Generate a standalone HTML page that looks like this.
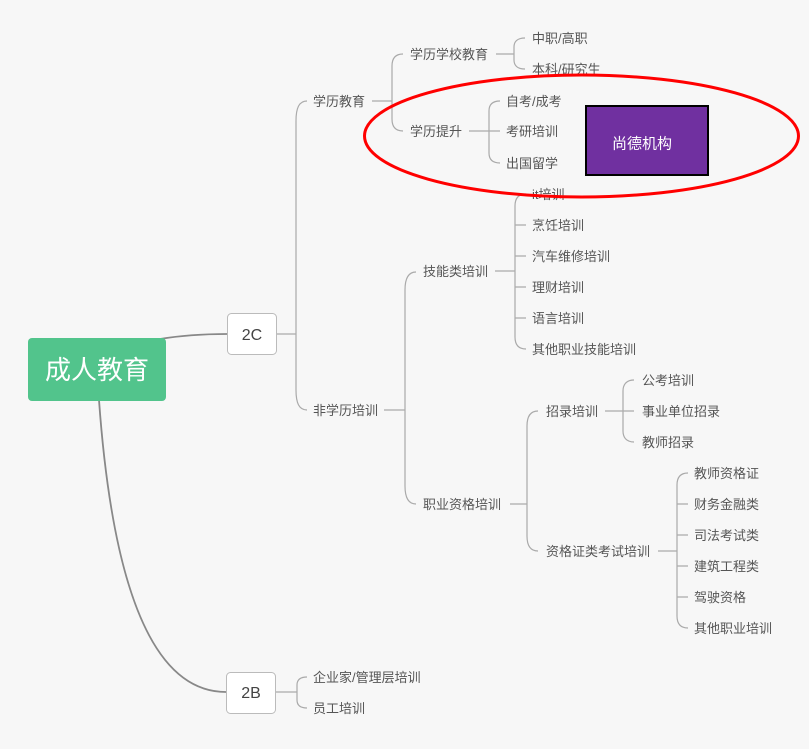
<!DOCTYPE html>
<html><head><meta charset="utf-8"><style>
html,body{margin:0;padding:0;background:#f7f7f7;}
svg{display:block;}
text{font-family:"Liberation Sans","Noto Sans CJK SC","WenQuanYi Zen Hei",sans-serif;}
.t{font-size:13px;fill:#555;}
</style></head><body>
<svg width="809" height="749" viewBox="0 0 809 749" xmlns="http://www.w3.org/2000/svg">
<rect width="809" height="749" fill="#f7f7f7"/>
<!-- main connectors -->
<g fill="none" stroke="#888" stroke-width="1.8">
<path d="M160 339 Q190 334 227 334"/>
<path d="M99 400 Q120 692 226 692"/>
</g>
<!-- brackets -->
<g fill="none" stroke="#aaa" stroke-width="1.2">
<!-- 2C -->
<path d="M277 334 L296 334"/>
<path d="M307 101 C299 101 296 108 296 121 L296 390 C296 403 299 410 307 410"/>
<!-- 学历教育 -->
<path d="M372 101 L392 101"/>
<path d="M403 54 C395 54 392 59 392 66 L392 119 C392 126 395 131 403 131"/>
<!-- 学历学校教育 -->
<path d="M496 54 L514 54"/>
<path d="M525 38 C517 38 514 42 514 47 L514 60 C514 65 517 69 525 69"/>
<!-- 学历提升 -->
<path d="M469 131 L500 131"/>
<path d="M500 101 C492 101 489 105 489 111 L489 153 C489 159 492 163 500 163"/>
<!-- 非学历培训 -->
<path d="M384 410 L405 410"/>
<path d="M416 272 C408 272 405 279 405 290 L405 486 C405 497 408 504 416 504"/>
<!-- 技能类培训 -->
<path d="M495 271 L515 271"/>
<path d="M526 194 C518 194 515 199 515 206 L515 337 C515 344 518 349 526 349"/>
<path d="M515 225 Q516 225 526 225 M515 256 L526 256 M515 287 L526 287 M515 318 L526 318"/>
<!-- 职业资格培训 -->
<path d="M510 504 L527 504"/>
<path d="M538 411 C530 411 527 417 527 426 L527 536 C527 545 530 551 538 551"/>
<!-- 招录培训 -->
<path d="M605 411 L634 411"/>
<path d="M634 380 C626 380 623 385 623 391 L623 431 C623 437 626 442 634 442"/>
<!-- 资格证类考试培训 -->
<path d="M658 551 L677 551"/>
<path d="M688 473 C680 473 677 478 677 485 L677 616 C677 623 680 628 688 628"/>
<path d="M677 504 L688 504 M677 535 L688 535 M677 566 L688 566 M677 597 L688 597"/>
<!-- 2B -->
<path d="M276 692 L297 692"/>
<path d="M307 677 C300 677 297 680 297 685 L297 700 C297 705 300 708 307 708"/>
</g>
<!-- root -->
<rect x="28" y="338" width="138" height="63" rx="4" fill="#52c48c"/>
<text x="97" y="379" font-size="26" fill="#fff" text-anchor="middle">成人教育</text>
<!-- 2C / 2B -->
<rect x="227.5" y="313.5" width="49" height="41" rx="4" fill="#fff" stroke="#bbb"/>
<text x="252" y="340" font-size="16" fill="#444" text-anchor="middle">2C</text>
<rect x="226.5" y="672.5" width="49" height="41" rx="4" fill="#fff" stroke="#bbb"/>
<text x="251" y="698" font-size="16" fill="#444" text-anchor="middle">2B</text>
<!-- labels -->
<g class="t">
<text x="313" y="106">学历教育</text>
<text x="313" y="415">非学历培训</text>
<text x="410" y="59">学历学校教育</text>
<text x="410" y="136">学历提升</text>
<text x="532" y="43">中职/高职</text>
<text x="532" y="74">本科/研究生</text>
<text x="506" y="106">自考/成考</text>
<text x="506" y="136">考研培训</text>
<text x="506" y="168">出国留学</text>
<text x="423" y="276">技能类培训</text>
<text x="423" y="509">职业资格培训</text>
<text x="532" y="199">it培训</text>
<text x="532" y="230">烹饪培训</text>
<text x="532" y="261">汽车维修培训</text>
<text x="532" y="292">理财培训</text>
<text x="532" y="323">语言培训</text>
<text x="532" y="354">其他职业技能培训</text>
<text x="546" y="416">招录培训</text>
<text x="546" y="556">资格证类考试培训</text>
<text x="642" y="385">公考培训</text>
<text x="642" y="416">事业单位招录</text>
<text x="642" y="447">教师招录</text>
<text x="694" y="478">教师资格证</text>
<text x="694" y="509">财务金融类</text>
<text x="694" y="540">司法考试类</text>
<text x="694" y="571">建筑工程类</text>
<text x="694" y="602">驾驶资格</text>
<text x="694" y="633">其他职业培训</text>
<text x="313" y="682">企业家/管理层培训</text>
<text x="313" y="713">员工培训</text>
</g>
<!-- red ellipse -->
<ellipse cx="581.5" cy="136" rx="217" ry="61" fill="none" stroke="#f00" stroke-width="3"/>
<!-- purple box -->
<rect x="586" y="106" width="122" height="69" fill="#7030a0" stroke="#000" stroke-width="2"/>
<text x="642" y="148.5" font-size="15" fill="#fff" text-anchor="middle">尚德机构</text>
</svg>
</body></html>
